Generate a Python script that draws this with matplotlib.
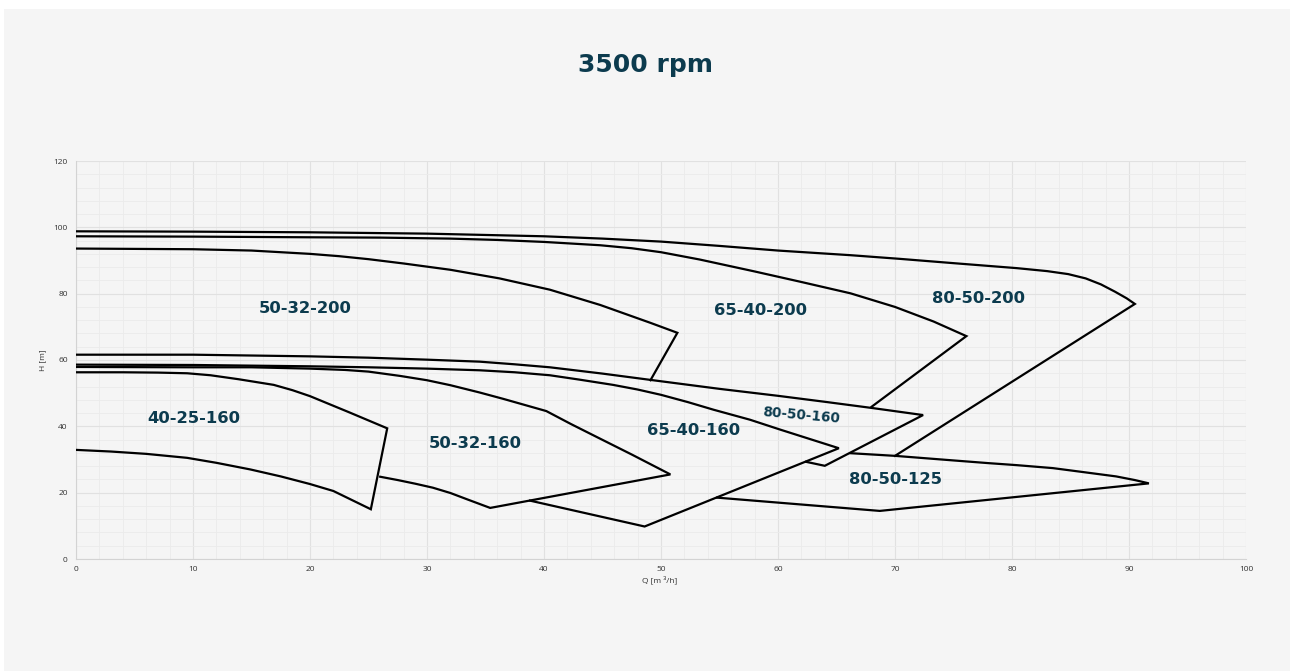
import matplotlib
matplotlib.use("Agg")
import matplotlib.pyplot as plt
from matplotlib.patches import Rectangle
from matplotlib.ticker import MultipleLocator

# Pump operating envelopes at 3500 rpm (Q in m3/h, H in m)
# each outline: max impeller curve -> end line -> visible part of min impeller curve
q_40_25_160 = [0, 4, 7, 9.5, 11.5, 13.9, 16.9, 18.5, 20, 23.3, 26.6,
               25.2, 22, 20, 17.5, 14.9, 12, 9.5, 6, 3, 0]
h_40_25_160 = [56.3, 56.3, 56.2, 56.0, 55.4, 54.2, 52.5, 50.9, 49.1, 44.3, 39.4,
               15.0, 20.5, 22.6, 24.9, 27.0, 29.0, 30.5, 31.7, 32.4, 32.9]

q_50_32_160 = [0, 10, 15, 20, 23, 25, 27.7, 30, 32, 34.5, 36.5, 38.2, 40.2, 42.3, 44.5, 47.5, 50.8,
               35.4, 33.5, 32, 30.5, 29, 27.5, 26.0]
h_50_32_160 = [57.9, 57.8, 57.8, 57.4, 57.0, 56.5, 55.2, 53.9, 52.4, 50.2, 48.3, 46.6, 44.6, 40.7, 36.8, 31.5, 25.5,
               15.4, 17.9, 19.9, 21.5, 22.7, 23.8, 24.8]

q_65_40_160 = [0, 10, 15, 20, 25, 30, 34.5, 37.5, 40.5, 43, 45.9, 48, 50, 52.3, 54.5, 57.6, 60.2, 62.7, 65.2,
               48.6, 38.8]
h_65_40_160 = [58.6, 58.5, 58.3, 58.1, 57.8, 57.4, 56.9, 56.3, 55.4, 54.1, 52.5, 51.1, 49.5, 47.3, 45.0, 42.0, 39.0, 36.2, 33.4,
               9.8, 17.6]

q_80_50_160 = [0, 10, 20, 25, 30, 34.5, 37.5, 40.5, 45, 49.1, 55, 60, 64, 68.1, 72.4, 64.0, 62.4]
h_80_50_160 = [61.6, 61.6, 61.1, 60.7, 60.1, 59.5, 58.7, 57.8, 55.9, 54.0, 51.3, 49.2, 47.4, 45.5, 43.4, 28.1, 29.3]

q_80_50_125 = [66.2, 70.0, 74.7, 78, 80.4, 83.5, 86.1, 88.9, 90.5, 91.7, 68.7, 54.8]
h_80_50_125 = [31.9, 31.1, 29.8, 28.9, 28.3, 27.4, 26.2, 24.9, 23.8, 22.8, 14.5, 18.5]

q_50_32_200 = [0, 10, 15, 20, 22.5, 25, 28, 32, 36.2, 40.5, 44.8, 49.1, 51.4, 49.1]
h_50_32_200 = [93.6, 93.4, 93.0, 92.0, 91.3, 90.4, 89.1, 87.2, 84.6, 81.2, 76.6, 71.2, 68.2, 53.9]

q_65_40_200 = [0, 10, 20, 26, 32, 36, 40, 44.8, 47.5, 50, 53.3, 58, 61.9, 66.2, 70, 73.3, 76.1, 68.0]
h_65_40_200 = [97.3, 97.2, 97.0, 96.9, 96.6, 96.2, 95.6, 94.6, 93.7, 92.5, 90.3, 86.7, 83.6, 80.1, 76.0, 71.6, 67.2, 45.9]

q_80_50_200 = [0, 10, 20, 30, 40, 45, 50, 55, 60, 66.2, 70.4, 75, 80.4, 83, 84.8, 86.3, 87.6, 88.8, 89.8, 90.5,
               70.0]
h_80_50_200 = [98.8, 98.7, 98.5, 98.1, 97.3, 96.6, 95.7, 94.4, 93.0, 91.6, 90.5, 89.2, 87.7, 86.8, 85.9, 84.6, 82.8, 80.6, 78.6, 76.9,
               31.1]

# model labels and where they sit in the chart
models = ["50-32-200", "65-40-200", "80-50-200", "40-25-160",
          "50-32-160", "65-40-160", "80-50-160", "80-50-125"]
label_q = [19.6, 58.5, 77.1, 10.1, 34.1, 52.8, 62.0, 70.0]
label_h = [75.4, 74.9, 78.4, 42.5, 34.7, 38.8, 43.4, 24.0]

BG = "#f5f5f5"
NAVY = "#0c3b4e"
TXT_FONT = "DejaVu Sans"

fig = plt.figure(figsize=(12.9, 6.71), dpi=100, facecolor=BG)
# thin white margin on top and left of the original screenshot
fig.patches.append(Rectangle((0, 1 - 9 / 671), 1, 9 / 671, transform=fig.transFigure,
                             facecolor="white", edgecolor="none", zorder=-1))
fig.patches.append(Rectangle((0, 0), 4 / 1290, 1, transform=fig.transFigure,
                             facecolor="white", edgecolor="none", zorder=-1))

ax = fig.add_axes([76 / 1290, 112 / 671, 1170 / 1290, 398 / 671])
ax.set_facecolor(BG)

outlines = [(q_40_25_160, h_40_25_160), (q_50_32_160, h_50_32_160),
            (q_65_40_160, h_65_40_160), (q_80_50_160, h_80_50_160),
            (q_80_50_125, h_80_50_125), (q_50_32_200, h_50_32_200),
            (q_65_40_200, h_65_40_200), (q_80_50_200, h_80_50_200)]
for q, h in outlines:
    ax.plot(q, h, color="black", lw=1.6, solid_joinstyle="miter", zorder=3)

for name, x, y in zip(models, label_q, label_h):
    small = name == "80-50-160"
    ax.text(x, y, name, ha="center", va="center", color=NAVY,
            fontsize=9.8 if small else 11.8, fontweight="bold", family=TXT_FONT,
            rotation=-5 if small else 0, zorder=4)

ax.set_xlim(0, 100)
ax.set_ylim(0, 120)
ax.xaxis.set_major_locator(MultipleLocator(10))
ax.yaxis.set_major_locator(MultipleLocator(20))
ax.xaxis.set_minor_locator(MultipleLocator(2))
ax.yaxis.set_minor_locator(MultipleLocator(4))
ax.grid(which="major", color="#e1e1e1", lw=0.8)
ax.grid(which="minor", color="#ebebeb", lw=0.6)
ax.set_axisbelow(True)
for s in ["top", "right"]:
    ax.spines[s].set_visible(False)
for s in ["left", "bottom"]:
    ax.spines[s].set_color("#d3d3d3")
ax.tick_params(which="both", length=0, labelsize=6, labelcolor="#333333")
ax.tick_params(axis="y", pad=6)
ax.tick_params(axis="x", pad=5)
for lbl in ax.get_xticklabels() + ax.get_yticklabels():
    lbl.set_family("Open Sans")

fig.text(43 / 1290, 1 - 360 / 671, "H [m]", rotation=90, ha="center", va="center",
         fontsize=6, color="#333333", family="Open Sans")
fig.text(660 / 1290, 1 - 580 / 671, "Q [m ³/h]", ha="center", va="center",
         fontsize=6, color="#333333", family="Open Sans")
fig.text(645 / 1290, 1 - 65 / 671, "3500 rpm", ha="center", va="center",
         fontsize=18, fontweight="bold", family=TXT_FONT, color=NAVY)

fig.savefig("out.png", dpi=100, facecolor=BG)
